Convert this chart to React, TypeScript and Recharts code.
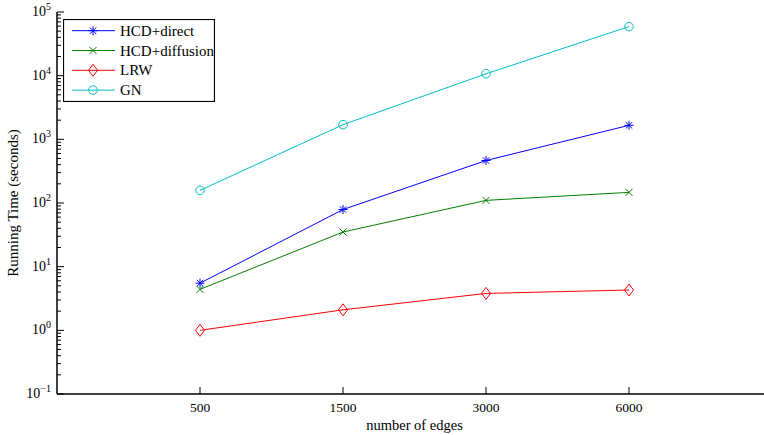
import React from 'react';
import { LineChart, Line, XAxis, YAxis, Legend } from 'recharts';

const categories = ['500', '1500', '3000', '6000'];
const hcdDirect = [5.5, 79, 465, 1660];
const hcdDiffusion = [4.4, 35, 110, 147];
const lrw = [1.0, 2.1, 3.8, 4.3];
const gn = [158, 1700, 10700, 59000];
const yMajorTicks = [0.1, 1, 10, 100, 1000, 10000, 100000];
const xTicks = [1, 2, 3, 4];

const FONT = "Liberation Serif";
const fontStyle = { fontFamily: FONT };

const yMinorTicks: number[] = [];
for (let i = 0; i < yMajorTicks.length - 1; i++) {
  for (let m = 2; m <= 9; m++) yMinorTicks.push(yMajorTicks[i] * m);
}
const yAllTicks = [...yMajorTicks, ...yMinorTicks].sort((a, b) => a - b);

const data = categories.map((c, i) => ({
  x: i + 1,
  label: c,
  direct: hcdDirect[i],
  diffusion: hcdDiffusion[i],
  lrw: lrw[i],
  gn: gn[i],
}));

const COLORS = {
  direct: '#0000ff',
  diffusion: '#008000',
  lrw: '#ff0000',
  gn: '#00bfbf',
};

type MarkerKind = 'star' | 'x' | 'diamond' | 'circle';

const Marker = ({ kind, cx, cy, color }: { kind: MarkerKind; cx: number; cy: number; color: string }) => {
  if (kind === 'star') {
    const r = 4.5;
    const d = r * 0.72;
    return (
      <g stroke={color} strokeWidth={1} fill="none">
        <line x1={cx - r} y1={cy} x2={cx + r} y2={cy} />
        <line x1={cx} y1={cy - r} x2={cx} y2={cy + r} />
        <line x1={cx - d} y1={cy - d} x2={cx + d} y2={cy + d} />
        <line x1={cx - d} y1={cy + d} x2={cx + d} y2={cy - d} />
      </g>
    );
  }
  if (kind === 'x') {
    const r = 3.5;
    return (
      <g stroke={color} strokeWidth={1} fill="none">
        <line x1={cx - r} y1={cy - r} x2={cx + r} y2={cy + r} />
        <line x1={cx - r} y1={cy + r} x2={cx + r} y2={cy - r} />
      </g>
    );
  }
  if (kind === 'diamond') {
    const w = 4.5;
    const h = 6;
    return (
      <polygon
        points={`${cx},${cy - h} ${cx + w},${cy} ${cx},${cy + h} ${cx - w},${cy}`}
        stroke={color}
        strokeWidth={1}
        fill="none"
      />
    );
  }
  return <circle cx={cx} cy={cy} r={4.3} stroke={color} strokeWidth={1} fill="none" />;
};

const makeDot = (kind: MarkerKind, color: string) => (props: any) => {
  const { cx, cy, index } = props;
  if (cx == null || cy == null) return <g key={`n-${kind}-${index}`} />;
  return (
    <g key={`${kind}-${index}`}>
      <Marker kind={kind} cx={cx} cy={cy} color={color} />
    </g>
  );
};

const YTick = (props: any) => {
  const { x, y, payload } = props;
  const v = payload.value as number;
  const lg = Math.log10(v);
  const exp = Math.round(lg);
  const major = Math.abs(lg - exp) < 1e-6;
  if (!major) {
    return <line x1={x} y1={y} x2={x + 4} y2={y} stroke="#000" strokeWidth={1} />;
  }
  const expStr = exp < 0 ? `\u2212${Math.abs(exp)}` : `${exp}`;
  return (
    <g>
      <line x1={x} y1={y} x2={x + 7} y2={y} stroke="#000" strokeWidth={1} />
      <text x={x - 6} y={y + 4} textAnchor="end" style={fontStyle} fontSize={14} fill="#000">
        <tspan>10</tspan>
        <tspan dy={-6} fontSize={10}>{expStr}</tspan>
      </text>
    </g>
  );
};

const XTickBottom = (props: any) => {
  const { x, y, payload } = props;
  const idx = Math.round(payload.value) - 1;
  return (
    <g>
      <line x1={x} y1={y} x2={x} y2={y - 7} stroke="#000" strokeWidth={1} />
      <text x={x} y={y + 18} textAnchor="middle" style={fontStyle} fontSize={13.5} fill="#000">
        {categories[idx]}
      </text>
    </g>
  );
};

const XTickTop = (props: any) => {
  const { x, y } = props;
  return <line x1={x} y1={y} x2={x} y2={y + 7} stroke="#000" strokeWidth={1} />;
};

const legendItems: { name: string; kind: MarkerKind; color: string }[] = [
  { name: 'HCD+direct', kind: 'star', color: COLORS.direct },
  { name: 'HCD+diffusion', kind: 'x', color: COLORS.diffusion },
  { name: 'LRW', kind: 'diamond', color: COLORS.lrw },
  { name: 'GN', kind: 'circle', color: COLORS.gn },
];

const LegendBox = () => {
  const W = 152;
  const H = 83;
  return (
    <svg width={W} height={H} style={{ display: 'block' }}>
      <rect x={0.5} y={0.5} width={W - 1} height={H - 1} fill="#fff" stroke="#000" strokeWidth={1.2} />
      {legendItems.map((it, i) => {
        const cy = 11.7 + i * 19.8;
        return (
          <g key={it.name}>
            <line x1={9} y1={cy} x2={52} y2={cy} stroke={it.color} strokeWidth={1} />
            <Marker kind={it.kind} cx={30} cy={cy} color={it.color} />
            <text x={57} y={cy + 5} style={fontStyle} fontSize={15} fill="#000">
              {it.name}
            </text>
          </g>
        );
      })}
    </svg>
  );
};

export default function App() {
  return (
    <div
      style={{
        position: 'fixed',
        left: 0,
        top: 0,
        width: 764,
        height: 435,
        overflow: 'hidden',
        background: '#fff',
        fontFamily: FONT,
      }}
    >
      <LineChart
        width={782}
        height={435}
        data={data}
        margin={{ top: 12, right: 10, bottom: 11, left: 0 }}
      >
        <XAxis
          dataKey="x"
          type="number"
          domain={[0, 5]}
          ticks={xTicks}
          interval={0}
          tickSize={0}
          tickMargin={0}
          tickLine={false}
          tick={<XTickBottom />}
          stroke="#000"
          strokeWidth={1.5}
          height={30}
          label={(p: any) => {
            const vb = p.viewBox || {};
            return (
              <text
                x={vb.x + vb.width / 2}
                y={vb.y + 36}
                textAnchor="middle"
                style={fontStyle}
                fontSize={14.5}
                fill="#000"
              >
                number of edges
              </text>
            );
          }}
        />
        <XAxis
          xAxisId="top"
          dataKey="x"
          type="number"
          orientation="top"
          domain={[0, 5]}
          ticks={xTicks}
          interval={0}
          tickSize={0}
          tickMargin={0}
          tickLine={false}
          tick={<XTickTop />}
          stroke="#000"
          strokeWidth={1.5}
          height={0}
        />
        <YAxis
          type="number"
          scale="log"
          domain={[0.1, 100000]}
          allowDataOverflow
          ticks={yAllTicks}
          interval={0}
          tickSize={0}
          tickMargin={0}
          tickLine={false}
          tick={<YTick />}
          stroke="#000"
          strokeWidth={1.5}
          width={57}
          label={(p: any) => {
            const vb = p.viewBox || {};
            const cx = vb.x + 13;
            const cy = vb.y + vb.height / 2;
            return (
              <text
                x={cx}
                y={cy}
                transform={`rotate(-90, ${cx}, ${cy})`}
                textAnchor="middle"
                dominantBaseline="central"
                style={fontStyle}
                fontSize={15}
                fill="#000"
              >
                Running Time (seconds)
              </text>
            );
          }}
        />
        <Legend
          layout="vertical"
          align="center"
          verticalAlign="middle"
          content={() => <LegendBox />}
          wrapperStyle={{ left: 63, top: 19, width: 152, height: 83 }}
        />
        <Line
          type="linear"
          dataKey="direct"
          name="HCD+direct"
          stroke={COLORS.direct}
          strokeWidth={1}
          dot={makeDot('star', COLORS.direct)}
          activeDot={false}
          isAnimationActive={false}
        />
        <Line
          type="linear"
          dataKey="diffusion"
          name="HCD+diffusion"
          stroke={COLORS.diffusion}
          strokeWidth={1}
          dot={makeDot('x', COLORS.diffusion)}
          activeDot={false}
          isAnimationActive={false}
        />
        <Line
          type="linear"
          dataKey="lrw"
          name="LRW"
          stroke={COLORS.lrw}
          strokeWidth={1}
          dot={makeDot('diamond', COLORS.lrw)}
          activeDot={false}
          isAnimationActive={false}
        />
        <Line
          type="linear"
          dataKey="gn"
          name="GN"
          stroke={COLORS.gn}
          strokeWidth={1}
          dot={makeDot('circle', COLORS.gn)}
          activeDot={false}
          isAnimationActive={false}
        />
      </LineChart>
    </div>
  );
}
